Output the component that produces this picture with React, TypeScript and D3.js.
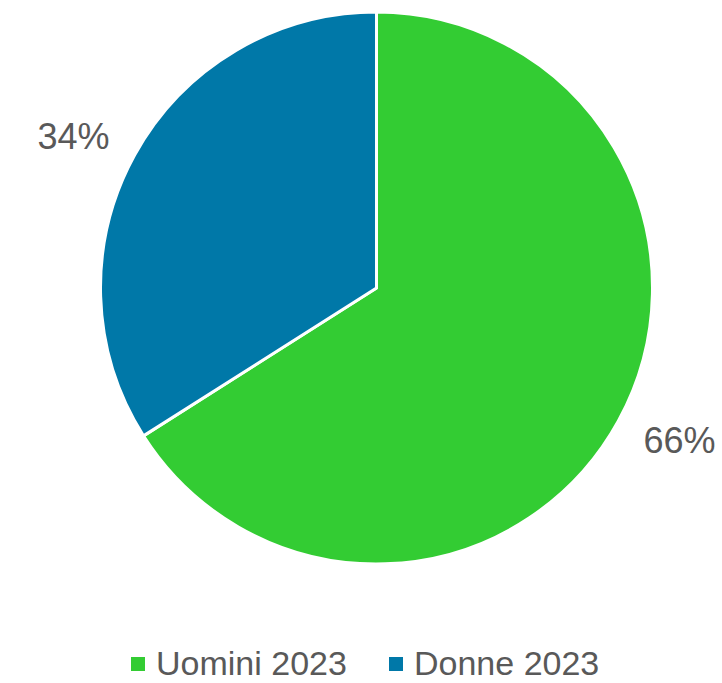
import React, { useRef, useEffect } from 'react';
import * as d3 from 'd3';

// data
const categories = ['Uomini 2023', 'Donne 2023'];
const values = [66, 34];
const colors = ['#33CC33', '#0078A8'];

const width = 722;
const height = 683;

export default function App() {
  const svgRef = useRef<SVGSVGElement>(null);

  useEffect(() => {
    const svg = d3.select(svgRef.current);
    svg.selectAll('*').remove();

    const cx = 376.5;
    const cy = 288;
    const radius = 276;
    const total = d3.sum(values);

    const pie = d3.pie<number>().value(d => d).sort(null);
    const arcs = pie(values);

    const arc = d3.arc<d3.PieArcDatum<number>>()
      .innerRadius(0)
      .outerRadius(radius);

    const g = svg.append('g').attr('transform', `translate(${cx}, ${cy})`);

    g.selectAll('path')
      .data(arcs)
      .enter()
      .append('path')
      .attr('d', arc)
      .attr('fill', (d, i) => colors[i])
      .attr('stroke', 'white')
      .attr('stroke-width', 3)
      .attr('stroke-linejoin', 'round');

    // labels outside the pie, like excel does it
    const labelR = 339;
    const shift = -0.038;
    g.selectAll('text.lbl')
      .data(arcs)
      .enter()
      .append('text')
      .attr('class', 'lbl')
      .attr('x', d => labelR * Math.sin((d.startAngle + d.endAngle) / 2 + shift))
      .attr('y', d => -labelR * Math.cos((d.startAngle + d.endAngle) / 2 + shift))
      .attr('dy', '0.36em')
      .style('text-anchor', 'middle')
      .style('font-family', 'Liberation Sans, Arial, sans-serif')
      .style('font-size', '36px')
      .style('fill', '#595959')
      .text(d => d3.format('.0%')(d.data / total));

    // legend
    const legend = svg.append('g').attr('transform', 'translate(0, 675)');
    const legendX = [131, 389];
    categories.forEach((c, i) => {
      const item = legend.append('g').attr('transform', `translate(${legendX[i]}, 0)`);
      item.append('rect')
        .attr('x', 0)
        .attr('y', -18)
        .attr('width', 14)
        .attr('height', 14)
        .attr('fill', colors[i]);
      item.append('text')
        .attr('x', 25)
        .attr('y', 0)
        .style('font-family', 'Liberation Sans, Arial, sans-serif')
        .style('font-size', '34px')
        .style('fill', '#595959')
        .text(c);
    });
  }, []);

  return (
    <svg
      ref={svgRef}
      width={width}
      height={height}
      style={{ position: 'absolute', left: 0, top: 0, background: 'white' }}
    />
  );
}
